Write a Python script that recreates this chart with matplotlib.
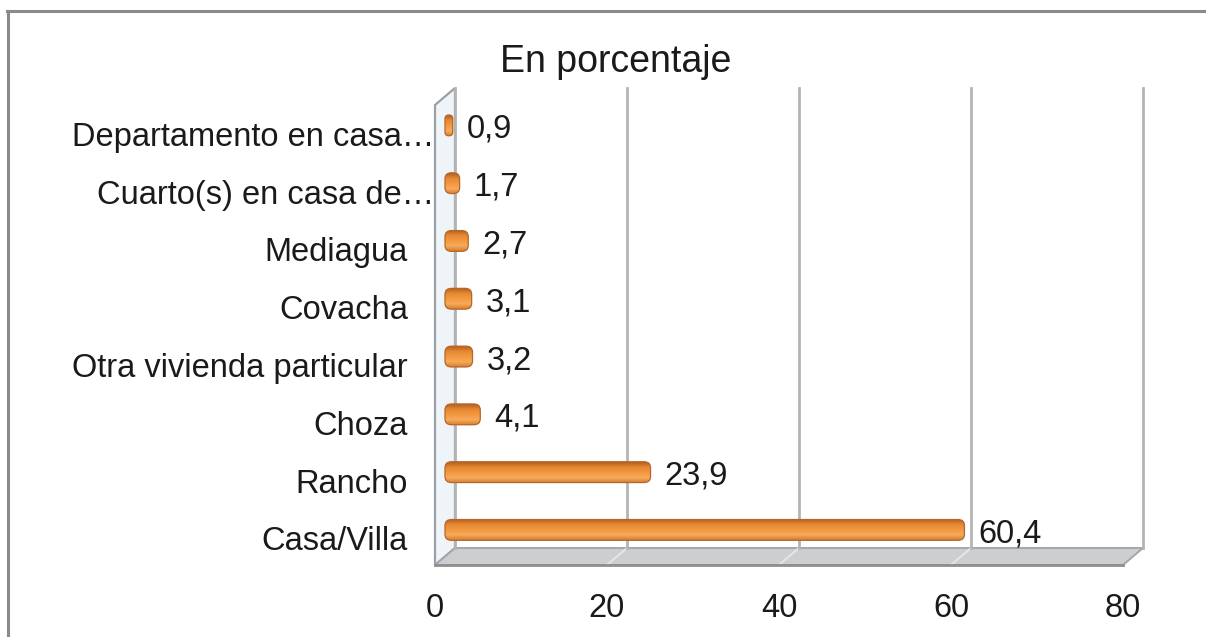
import matplotlib
matplotlib.use("Agg")
import matplotlib.pyplot as plt
import matplotlib.transforms as mtransforms
from matplotlib.patches import Polygon, FancyBboxPatch
from matplotlib.colors import LinearSegmentedColormap
from matplotlib.lines import Line2D
import numpy as np

plt.rcParams['font.family'] = ['Liberation Sans', 'DejaVu Sans']

# datos
categories = ['Casa/Villa', 'Rancho', 'Choza', 'Otra vivienda particular',
              'Covacha', 'Mediagua', 'Cuarto(s) en casa de…', 'Departamento en casa…']
values = [60.4, 23.9, 4.1, 3.2, 3.1, 2.7, 1.7, 0.9]
value_labels = ['60,4', '23,9', '4,1', '3,2', '3,1', '2,7', '1,7', '0,9']
x_ticks = [0, 20, 40, 60, 80]
title = 'En porcentaje'

W, H = 1206, 637
XMAX = 80
YMIN, YMAX = -0.46, 7.5
DEPTH_PX = (20, 17)      # profundidad del efecto 3D (px)
BAR_H = 0.36
FS = 23.5

fig = plt.figure(figsize=(W / 100, H / 100), dpi=100)
fig.patch.set_facecolor('white')

# plano frontal
ax = fig.add_axes([435 / W, 72 / H, 688 / W, 460 / H])
ax.set_facecolor('none')
for s in ax.spines.values():
    s.set_visible(False)

# unidades de datos para la profundidad
ddx = DEPTH_PX[0] * XMAX / 688
ddy = DEPTH_PX[1] * (YMAX - YMIN) / 460

back_trans = mtransforms.offset_copy(ax.transData, fig=fig, x=DEPTH_PX[0], y=DEPTH_PX[1], units='dots')
mid_trans = mtransforms.offset_copy(ax.transData, fig=fig, x=DEPTH_PX[0] / 2, y=DEPTH_PX[1] / 2, units='dots')

# pared izquierda
wall = Polygon([(0, YMIN), (0, YMAX), (ddx, YMAX + ddy), (ddx, YMIN + ddy)],
               closed=True, facecolor='#eef4f8', edgecolor='#9aa0a6', lw=1.6, zorder=1, clip_on=False)
ax.add_patch(wall)

# piso
floor = Polygon([(0, YMIN), (XMAX, YMIN), (XMAX + ddx, YMIN + ddy), (ddx, YMIN + ddy)],
                closed=True, facecolor='#cbcfd2', edgecolor='#a3a7aa', lw=1.4, zorder=1, clip_on=False)
ax.add_patch(floor)
ax.plot([0, XMAX], [YMIN, YMIN], color='#8e8e8e', lw=2.0, zorder=1.5, clip_on=False)
for xt in x_ticks[1:-1]:
    ax.plot([xt, xt + ddx], [YMIN, YMIN + ddy], color='#e4e6e8', lw=1.4, zorder=1.2, clip_on=False)

# lineas de cuadricula (pared del fondo)
for xt in x_ticks:
    ax.plot([xt, xt], [YMIN, YMAX], transform=back_trans, color='#b4b4b4', lw=2.0, zorder=1.3, clip_on=False)

# barras cilindricas
cmap = LinearSegmentedColormap.from_list('cyl', ['#d5812f', '#f7a95a', '#f3983f', '#e68833', '#b25f1c'])
grad = np.linspace(0, 1, 64).reshape(-1, 1)
ypos = np.arange(len(categories))
bars = ax.barh(ypos, values, height=BAR_H, transform=mid_trans, color='none', zorder=3)
for rect, lbl in zip(bars, value_labels):
    x0, y0 = rect.get_x(), rect.get_y()
    w, h = rect.get_width(), rect.get_height()
    r = min(0.75, w / 2)
    patch = FancyBboxPatch((x0, y0), w, h, boxstyle=f'round,pad=0,rounding_size={r}',
                           mutation_aspect=0.14, transform=mid_trans,
                           facecolor='#f0973f', edgecolor='none', zorder=3, clip_on=False)
    ax.add_patch(patch)
    im = ax.imshow(grad, cmap=cmap, extent=[x0, x0 + w, y0 + h, y0], aspect='auto',
                   transform=mid_trans, zorder=3.1, interpolation='bilinear')
    im.set_clip_path(patch)
    edge = FancyBboxPatch((x0, y0), w, h, boxstyle=f'round,pad=0,rounding_size={r}',
                          mutation_aspect=0.14, transform=mid_trans,
                          facecolor='none', edgecolor='#b5672a', lw=0.9, zorder=3.2, clip_on=False)
    ax.add_patch(edge)
    ax.annotate(lbl, xy=(x0 + w, y0 + h / 2), xycoords=mid_trans,
                xytext=(14, -4), textcoords='offset pixels',
                ha='left', va='center', fontsize=FS, color='#1a1a1a', zorder=4)

# ejes
ax.set_xlim(0, XMAX)
ax.set_ylim(YMIN, YMAX)
ax.set_xticks(x_ticks)
ax.set_xticklabels([str(t) for t in x_ticks])
ax.set_yticks(ypos)
ax.set_yticklabels(categories)
ax.tick_params(axis='x', length=0, pad=20, labelsize=FS, labelcolor='#1a1a1a')
ax.tick_params(axis='y', length=0, pad=19.5, labelsize=FS, labelcolor='#1a1a1a')

# las etiquetas truncadas llegan hasta la pared
shift = mtransforms.ScaledTranslation(26 / 100, 0, fig.dpi_scale_trans)
for lab in ax.get_yticklabels():
    if lab.get_text().endswith('…'):
        lab.set_transform(lab.get_transform() + shift)

# titulo
fig.text(616 / W, 1 - 62 / H, title, ha='center', va='center', fontsize=27, color='#1a1a1a')

# borde exterior
fig.add_artist(Line2D([7 / W, 1], [1 - 11 / H, 1 - 11 / H], transform=fig.transFigure, color='#8a8a8a', lw=2.2))
fig.add_artist(Line2D([8 / W, 8 / W], [0, 1 - 11 / H], transform=fig.transFigure, color='#8a8a8a', lw=2.2))

fig.savefig('out.png', dpi=100)
